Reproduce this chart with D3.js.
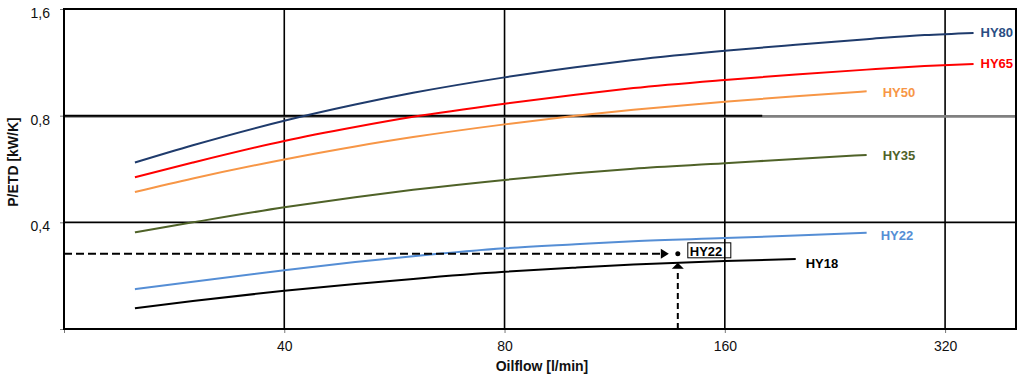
<!DOCTYPE html>
<html>
<head>
<meta charset="utf-8">
<script src="https://cdn.jsdelivr.net/npm/d3@7"></script>
<style>
  html, body { margin: 0; padding: 0; background: #fff; }
  svg { display: block; font-family: "Liberation Sans", Arial, sans-serif; }
</style>
</head>
<body>
<svg id="chart" width="1024" height="376"></svg>
<script>
// ---------- data ----------
const flowLong  = [25, 30, 40, 50, 60, 80, 100, 120, 160, 200, 250, 300, 350];
const flowMid   = [25, 30, 40, 50, 60, 80, 100, 120, 160, 200, 250];
const flowShort = [25, 30, 40, 50, 60, 80, 100, 120, 160, 200];

const hy80 = [0.59, 0.66, 0.774, 0.86, 0.928, 1.026, 1.096, 1.149, 1.22, 1.268, 1.315, 1.351, 1.37];
const hy65 = [0.536, 0.59, 0.679, 0.743, 0.794, 0.865, 0.917, 0.957, 1.009, 1.046, 1.079, 1.104, 1.12];
const hy50 = [0.487, 0.532, 0.602, 0.655, 0.696, 0.756, 0.799, 0.831, 0.876, 0.908, 0.937];
const hy35 = [0.375, 0.40, 0.441, 0.471, 0.494, 0.527, 0.55, 0.567, 0.587, 0.604, 0.62];
const hy22 = [0.259, 0.272, 0.293, 0.309, 0.321, 0.338, 0.347, 0.354, 0.361, 0.367, 0.374];
const hy18 = [0.229, 0.240, 0.2565, 0.268, 0.277, 0.290, 0.298, 0.304, 0.311, 0.315];

const seriesNames = ["HY80", "HY65", "HY50", "HY35", "HY22", "HY18"];
const xTickValues = [20, 40, 80, 160, 320];
const xTickLabels = ["", "40", "80", "160", "320"];
const yTickValues = [0.2, 0.4, 0.8, 1.6];
const yTickLabels = ["", "0,4", "0,8", "1,6"];

const opFlow = 138;       // operating point flow [l/min]
const opValue = 0.326;    // operating point P/ETD [kW/K]
const opLabel = "HY22";

const xTitle = "Oilflow [l/min]";
const yTitle = "P/ETD [kW/K]";

// ---------- styles ----------
const colors = ["#1f3b6c", "#ff0000", "#f79646", "#4f6228", "#558ed5", "#000000"];
const labelColors = ["#2a4d83", "#ff0000", "#f79646", "#4f6228", "#558ed5", "#000000"];
const labelOffsets = [[7, 0], [7, 0], [16, 1], [16, 1], [14, 3], [10, 4]];

const series = [
  { name: seriesNames[0], x: flowLong,  y: hy80 },
  { name: seriesNames[1], x: flowLong,  y: hy65 },
  { name: seriesNames[2], x: flowMid,   y: hy50 },
  { name: seriesNames[3], x: flowMid,   y: hy35 },
  { name: seriesNames[4], x: flowMid,   y: hy22 },
  { name: seriesNames[5], x: flowShort, y: hy18 }
];

const svg = d3.select("#chart");
const L = 64, R = 1016, T = 9, B = 329;

const x = d3.scaleLog().domain([20, 400]).range([L, R]);
const y = d3.scaleLog().domain([0.2, 1.6]).range([B, T]);

// gridlines
const grid = svg.append("g");
grid.selectAll("line.v").data([40, 80, 160, 320]).join("line")
  .attr("x1", d => x(d)).attr("x2", d => x(d))
  .attr("y1", T).attr("y2", B)
  .attr("stroke", "#000").attr("stroke-width", 1.6);
grid.append("line")
  .attr("x1", L).attr("x2", R).attr("y1", y(0.4)).attr("y2", y(0.4))
  .attr("stroke", "#000").attr("stroke-width", 1.6);
grid.append("line")
  .attr("x1", L).attr("x2", R).attr("y1", y(0.8) + 0.8).attr("y2", y(0.8) + 0.8)
  .attr("stroke", "#808080").attr("stroke-width", 2.8);
grid.append("line")
  .attr("x1", L).attr("x2", x(180)).attr("y1", y(0.8)).attr("y2", y(0.8))
  .attr("stroke", "#000").attr("stroke-width", 2);

// axes (ticks + labels)
const xAxis = d3.axisBottom(x).tickValues(xTickValues)
  .tickFormat((d, i) => xTickLabels[i]).tickSize(4).tickPadding(8);
const gx = svg.append("g").attr("transform", `translate(0,${B})`).call(xAxis);
gx.select(".domain").remove();
gx.selectAll(".tick line").attr("stroke", "#777").attr("stroke-width", 1);
gx.selectAll(".tick text").attr("font-size", 14).attr("fill", "#111")
  .attr("font-family", "Liberation Sans, Arial, sans-serif");

const yAxis = d3.axisLeft(y).tickValues(yTickValues)
  .tickFormat((d, i) => yTickLabels[i]).tickSize(4).tickPadding(10);
const gy = svg.append("g").attr("transform", `translate(${L},0)`).call(yAxis);
gy.select(".domain").remove();
gy.selectAll(".tick line").attr("stroke", "#777").attr("stroke-width", 1);
gy.selectAll(".tick text").attr("font-size", 14).attr("fill", "#111")
  .attr("dy", "0.6em")
  .attr("font-family", "Liberation Sans, Arial, sans-serif");

// frame
svg.append("rect")
  .attr("x", L).attr("y", T).attr("width", R - L).attr("height", B - T)
  .attr("fill", "none").attr("stroke", "#000").attr("stroke-width", 2);

// curves
const line = d3.line()
  .x(d => x(d[0])).y(d => y(d[1]))
  .curve(d3.curveMonotoneX);

const gs = svg.append("g");
series.forEach((s, i) => {
  const pts = s.x.map((v, k) => [v, s.y[k]]);
  gs.append("path")
    .attr("d", line(pts))
    .attr("fill", "none")
    .attr("stroke", colors[i])
    .attr("stroke-width", 2);
  const last = pts[pts.length - 1];
  gs.append("text")
    .attr("x", x(last[0]) + labelOffsets[i][0])
    .attr("y", y(last[1]) + labelOffsets[i][1])
    .attr("dy", "0.35em")
    .attr("font-size", 13).attr("font-weight", "bold")
    .attr("fill", labelColors[i])
    .text(s.name);
});

// operating point with dashed guides
const px = x(opFlow), py = y(opValue);
const gop = svg.append("g");
gop.append("line")
  .attr("x1", L).attr("x2", px - 16).attr("y1", py).attr("y2", py)
  .attr("stroke", "#000").attr("stroke-width", 2).attr("stroke-dasharray", "8,4");
gop.append("path")
  .attr("d", `M${px - 9},${py} L${px - 17},${py - 5} L${px - 17},${py + 5} Z`)
  .attr("fill", "#000");
gop.append("line")
  .attr("x1", px).attr("x2", px).attr("y1", B).attr("y2", py + 16)
  .attr("stroke", "#000").attr("stroke-width", 2).attr("stroke-dasharray", "6,4");
gop.append("path")
  .attr("d", `M${px},${py + 9} L${px - 6},${py + 15} L${px + 6},${py + 15} Z`)
  .attr("fill", "#000");
gop.append("circle").attr("cx", px).attr("cy", py).attr("r", 2.5).attr("fill", "#000");
gop.append("rect")
  .attr("x", px + 10).attr("y", py - 11).attr("width", 43).attr("height", 15)
  .attr("fill", "none").attr("stroke", "#000").attr("stroke-width", 1);
gop.append("text")
  .attr("x", px + 12).attr("y", py + 2)
  .attr("font-size", 13).attr("font-weight", "bold").attr("fill", "#000")
  .text(opLabel);

// titles
svg.append("text")
  .attr("x", 542).attr("y", 371)
  .attr("text-anchor", "middle")
  .attr("font-size", 14).attr("font-weight", "bold").attr("fill", "#111")
  .text(xTitle);
svg.append("text")
  .attr("transform", "translate(18,162) rotate(-90)")
  .attr("text-anchor", "middle")
  .attr("font-size", 14).attr("font-weight", "bold").attr("fill", "#111")
  .text(yTitle);
</script>
</body>
</html>
